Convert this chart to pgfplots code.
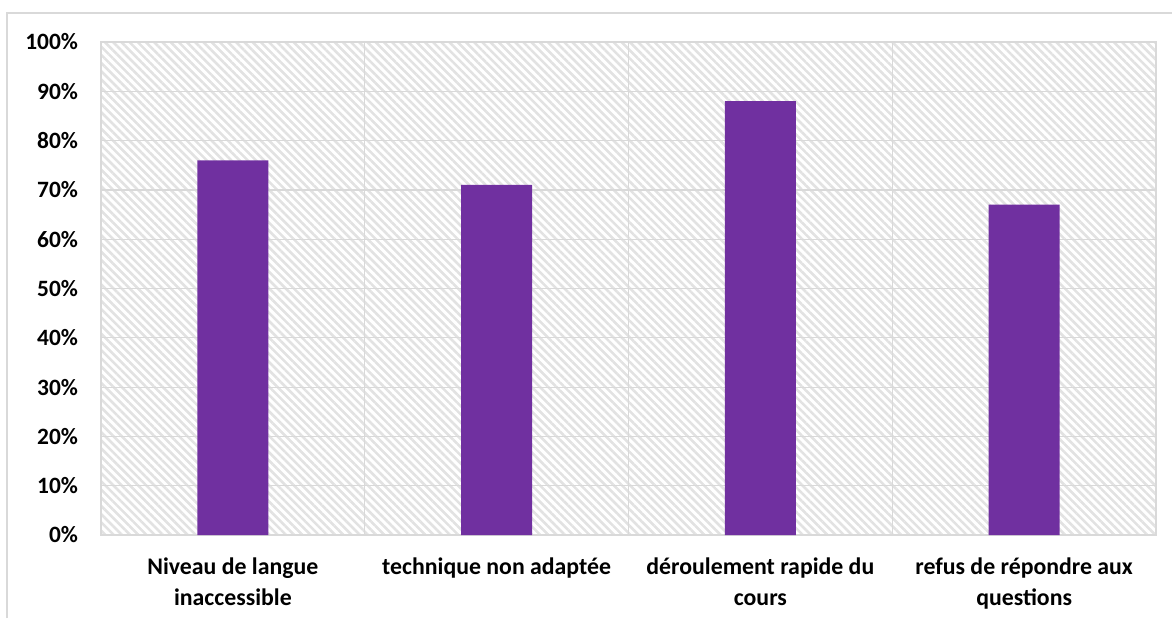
\documentclass[border=0pt]{standalone}
\usepackage{fontspec}
\setmainfont{Carlito}
\usepackage{pgfplots}
\pgfplotsset{compat=1.18}
\usetikzlibrary{patterns.meta}
\definecolor{gridc}{HTML}{D9D9D9}
\definecolor{hatchc}{HTML}{E2E2E2}
\definecolor{barc}{HTML}{7030A0}
\begin{document}
\begin{tikzpicture}
\useasboundingbox (-50.5pt,-41.5pt) rectangle (535.5pt,267.5pt);
\begin{axis}[
  at={(0pt,0pt)}, anchor=south west,
  width=527.5pt, height=246.5pt, scale only axis,
  xmin=-0.5, xmax=3.5, ymin=0, ymax=100,
  axis background/.style={pattern={Lines[angle=-45,distance=2.9pt,line width=1.3pt]}, pattern color=hatchc},
  axis line style={gridc, line width=0.6pt},
  xtick={0,1,2,3},
  xticklabels={{Niveau de langue\\inaccessible},{technique non adaptée},{déroulement rapide du\\cours},{refus de répondre aux\\questions}},
  xticklabel style={font=\fontsize{11.9}{15.5}\selectfont\bfseries, align=center, anchor=north, yshift=-8pt},
  minor xtick={0.5,1.5,2.5},
  xminorgrids=true,
  minor grid style={gridc, line width=0.6pt},
  ytick={0,10,...,100},
  yticklabel={\pgfmathprintnumber[assume math mode=true]{\tick}\%},
  yticklabel style={font=\fontsize{11.7}{14}\selectfont\bfseries, xshift=-8pt},
  ymajorgrids=true,
  major grid style={gridc, line width=0.6pt},
  major tick length=0pt, minor tick length=0pt,
  tick style={draw=none},
  ybar, bar width=35.5pt,
]
\addplot[fill=barc, draw=none] coordinates {(0,76) (1,71) (2,88) (3,67)};
\end{axis}
\draw[gridc, line width=0.6pt] (-47pt,-41.5pt) -- (-47pt,261pt) -- (535.5pt,261pt);
\end{tikzpicture}
\end{document}
